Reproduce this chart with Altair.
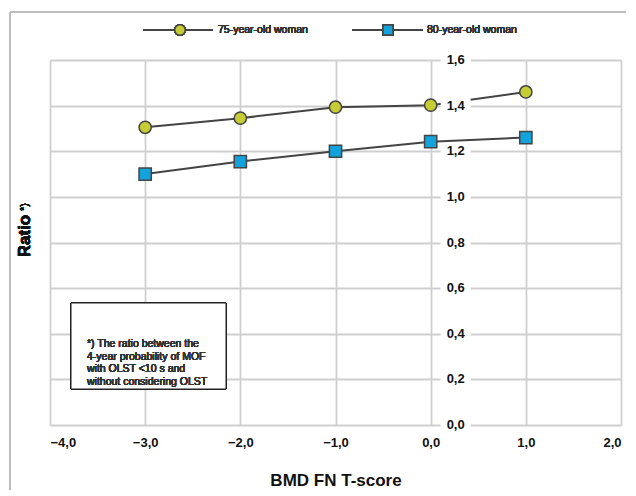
import altair as alt
import pandas as pd

t_scores = [-3, -2, -1, 0, 1]
ratio_75 = [1.305, 1.345, 1.393, 1.402, 1.46]
ratio_80 = [1.10, 1.155, 1.20, 1.242, 1.26]
y_ticks = [0.0, 0.2, 0.4, 0.6, 0.8, 1.0, 1.2, 1.4, 1.6]
y_labels = ["0,0", "0,2", "0,4", "0,6", "0,8", "1,0", "1,2", "1,4", "1,6"]
note_lines = ["*) The ratio between the", "4-year probability of MOF",
              "with OLST <10 s and", "without considering OLST"]

FONT = "Liberation Sans"
LINE = "#444444"
TXT = "#333333"

df75 = pd.DataFrame({"t": t_scores, "r": ratio_75})
df80 = pd.DataFrame({"t": t_scores, "r": ratio_80})
dticks = pd.DataFrame({"x0": [0] * len(y_ticks), "v": y_ticks, "lab": y_labels})

xs = alt.Scale(domain=[-4, 2], nice=False, zero=False)
ys = alt.Scale(domain=[0, 1.6], nice=False)

X = alt.X("t:Q", scale=xs, title="BMD FN T-score",
          axis=alt.Axis(values=[-4, -3, -2, -1, 0, 1, 2], ticks=False, domain=False,
                        labelExpr="replace(format(datum.value, '.1f'), '.', ',')",
                        labelFont=FONT, labelFontSize=13, labelFontWeight="bold",
                        labelColor="#111", labelPadding=11,
                        titleFont=FONT, titleFontSize=17, titleFontWeight="bold",
                        titleColor="#111", titlePadding=23,
                        gridColor="#cfcfcf", gridWidth=1.8))
Y = alt.Y("r:Q", scale=ys, title=None,
          axis=alt.Axis(values=y_ticks, labels=False, ticks=False, domain=False,
                        gridColor="#cfcfcf", gridWidth=1.8))

base_axes = alt.Chart(df75).mark_line(opacity=0).encode(x=X, y=Y)

line75 = alt.Chart(df75).mark_line(color=LINE, strokeWidth=2).encode(
    x=alt.X("t:Q", scale=xs), y=alt.Y("r:Q", scale=ys))
line80 = alt.Chart(df80).mark_line(color=LINE, strokeWidth=2).encode(
    x=alt.X("t:Q", scale=xs), y=alt.Y("r:Q", scale=ys))
pts75 = alt.Chart(df75).mark_point(shape="circle", filled=True, fill="#c6cc33",
                                   stroke=LINE, strokeWidth=1.5, size=150, opacity=1).encode(
    x=alt.X("t:Q", scale=xs), y=alt.Y("r:Q", scale=ys))
pts80 = alt.Chart(df80).mark_point(shape="square", filled=True, fill="#12a2dc",
                                   stroke=LINE, strokeWidth=1.5, size=150, opacity=1).encode(
    x=alt.X("t:Q", scale=xs), y=alt.Y("r:Q", scale=ys))

# y-axis labels drawn at x = 0 with white background boxes
lab_bg = alt.Chart(dticks).mark_point(
    shape="M-1,-0.47L1,-0.47L1,0.47L-1,0.47Z", filled=True, fill="white",
    strokeWidth=0, size=900, opacity=1, xOffset=25).encode(
    x=alt.X("x0:Q", scale=xs), y=alt.Y("v:Q", scale=ys))
lab_txt = alt.Chart(dticks).mark_text(
    font=FONT, fontSize=13, fontWeight="bold", color="#111", dx=25, align="center",
    baseline="middle").encode(
    x=alt.X("x0:Q", scale=xs), y=alt.Y("v:Q", scale=ys), text="lab:N")

# y title
ytitle = alt.Chart(dticks).mark_text(
    font=FONT, fontSize=17, fontWeight="bold", color="#111", angle=270,
    align="center", baseline="middle").encode(
    x=alt.value(-25), y=alt.value(176), text=alt.value("Ratio"))
ystar = alt.Chart(dticks).mark_text(
    font=FONT, fontSize=11, color="#111", angle=270,
    align="center", baseline="middle").encode(
    x=alt.value(-25), y=alt.value(147), text=alt.value("*)"))

# legend
leg_line1 = alt.Chart(dticks).mark_rule(color=LINE, strokeWidth=1.5).encode(
    x=alt.value(93), x2=alt.value(163), y=alt.value(-30))
leg_pt1 = alt.Chart(dticks).mark_point(shape="circle", filled=True, fill="#c6cc33",
                                       stroke=LINE, strokeWidth=1.5, size=110, opacity=1).encode(
    x=alt.value(130), y=alt.value(-30))
leg_txt1 = alt.Chart(dticks).mark_text(font=FONT, fontSize=10.5, color=TXT, align="left",
                                        baseline="middle", fontWeight="normal").encode(
    x=alt.value(168), y=alt.value(-30), text=alt.value("75-year-old woman"))
leg_line2 = alt.Chart(dticks).mark_rule(color=LINE, strokeWidth=1.5).encode(
    x=alt.value(302), x2=alt.value(373), y=alt.value(-30))
leg_pt2 = alt.Chart(dticks).mark_point(shape="square", filled=True, fill="#12a2dc",
                                       stroke=LINE, strokeWidth=1.5, size=100, opacity=1).encode(
    x=alt.value(338), y=alt.value(-30))
leg_txt2 = alt.Chart(dticks).mark_text(font=FONT, fontSize=10.5, color=TXT, align="left",
                                        baseline="middle", fontWeight="normal").encode(
    x=alt.value(377), y=alt.value(-30), text=alt.value("80-year-old woman"))

# note box
note_box = alt.Chart(dticks).mark_rect(fill="white", stroke="#222", strokeWidth=1).encode(
    x=alt.value(21), x2=alt.value(176), y=alt.value(243), y2=alt.value(329))
note_txt = alt.Chart(dticks).mark_text(font=FONT, fontSize=10.5, color=TXT, align="left",
                                        baseline="middle", lineHeight=12.5,
                                        fontWeight="normal").encode(
    x=alt.value(37), y=alt.value(284), text=alt.value(note_lines))

# outer frame
frame_left = alt.Chart(dticks).mark_rule(color="#bdbdbd", strokeWidth=2).encode(
    x=alt.value(-40), y=alt.value(-48), y2=alt.value(440))
frame_top = alt.Chart(dticks).mark_rule(color="#bdbdbd", strokeWidth=2).encode(
    x=alt.value(-40), x2=alt.value(590), y=alt.value(-48))

chart = alt.layer(
    base_axes, frame_left, frame_top, line75, line80, pts75, pts80,
    lab_bg, lab_txt, ytitle, ystar,
    leg_line1, leg_pt1, leg_txt1, leg_line2, leg_pt2, leg_txt2,
    note_box, note_txt,
).properties(
    width=571, height=365,
    autosize=alt.AutoSizeParams(type="none"),
    padding={"left": 42, "top": 52, "right": 5, "bottom": 65},
).configure_view(stroke=None).configure(background="white")

chart.save("out.html", embed_options={"renderer": "svg", "actions": False})
